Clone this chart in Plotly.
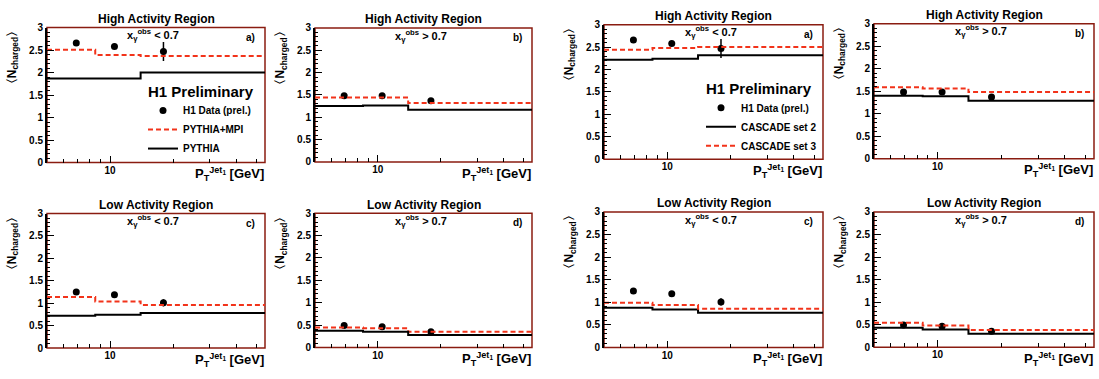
import plotly.graph_objects as go

# ---------------- data ----------------
bin_edges = [5, 8.5, 14, 55]          # P_T^Jet1 bin edges [GeV]
pt_mean = [6.9, 10.5, 18.0]           # mean P_T in each bin

# H1 data (prel.)
data_high_lo = [2.66, 2.58, 2.47]
err_high_lo = [0.05, 0.05, 0.21]
data_high_hi = [1.48, 1.48, 1.37]
err_high_hi = [0.03, 0.03, 0.04]
data_low_lo = [1.25, 1.19, 1.01]
err_low_lo = [0.03, 0.03, 0.08]
data_low_hi = [0.49, 0.465, 0.355]
err_low_hi = [0.02, 0.02, 0.03]

# Monte Carlo predictions
pythia_mpi_a = [2.51, 2.39, 2.37]
pythia_mpi_b = [1.44, 1.44, 1.32]
pythia_mpi_c = [1.14, 1.04, 0.96]
pythia_mpi_d = [0.45, 0.43, 0.35]
pythia_a = [1.87, 1.87, 2.00]
pythia_b = [1.25, 1.265, 1.17]
pythia_c = [0.72, 0.745, 0.78]
pythia_d = [0.375, 0.35, 0.28]
cascade2_a = [2.22, 2.24, 2.32]
cascade2_b = [1.40, 1.39, 1.29]
cascade2_c = [0.88, 0.84, 0.77]
cascade2_d = [0.43, 0.39, 0.30]
cascade3_a = [2.44, 2.48, 2.50]
cascade3_b = [1.59, 1.56, 1.48]
cascade3_c = [0.99, 0.94, 0.86]
cascade3_d = [0.54, 0.48, 0.38]

y_ticks = [0, 0.5, 1, 1.5, 2, 2.5, 3]
x_ticks = [10]
x_minor = [6, 7, 8, 9, 20, 30, 40, 50]

# ---------------- layout helpers ----------------
W, H = 1099, 379
FONT = "Liberation Sans, Arial, Helvetica, sans-serif"
RED = "#f2331a"
FRAME = "#8a1c10"

# panel pixel boxes: (left, right, top, bottom)
boxes = [
    (47, 265, 22.3, 161.7), (315, 532, 22.7, 161.0),
    (604, 823, 19.3, 158.3), (874, 1094, 18.3, 157.7),
    (47, 265, 214.3, 353.3), (315, 532, 214.0, 352.7),
    (604, 823, 212.7, 352.7), (874, 1094, 212.7, 352.3),
]

panels = [
    ("High Activity Region", "&lt; 0.7", "a)", data_high_lo, err_high_lo, pythia_mpi_a, pythia_a, "pythia"),
    ("High Activity Region", "&gt; 0.7", "b)", data_high_hi, err_high_hi, pythia_mpi_b, pythia_b, "pythia"),
    ("High Activity Region", "&lt; 0.7", "a)", data_high_lo, err_high_lo, cascade3_a, cascade2_a, "cascade"),
    ("High Activity Region", "&gt; 0.7", "b)", data_high_hi, err_high_hi, cascade3_b, cascade2_b, "cascade"),
    ("Low Activity Region", "&lt; 0.7", "c)", data_low_lo, err_low_lo, pythia_mpi_c, pythia_c, "pythia"),
    ("Low Activity Region", "&gt; 0.7", "d)", data_low_hi, err_low_hi, pythia_mpi_d, pythia_d, "pythia"),
    ("Low Activity Region", "&lt; 0.7", "c)", data_low_lo, err_low_lo, cascade3_c, cascade2_c, "cascade"),
    ("Low Activity Region", "&gt; 0.7", "d)", data_low_hi, err_low_hi, cascade3_d, cascade2_d, "cascade"),
]

def px(x):
    return x / W

def py(y):
    return 1 - y / H

fig = go.Figure()
annotations = []
shapes = []
layout_axes = {}

for i, (box, p) in enumerate(zip(boxes, panels)):
    n = i + 1
    xa = "x" if n == 1 else f"x{n}"
    ya = "y" if n == 1 else f"y{n}"
    l, r, t, b = box
    title, cut, letter, dat, err, red_vals, blk_vals, family = p

    leg = None
    if i == 0:
        leg = "legend"
    elif i == 2:
        leg = "legend2"
    show = leg is not None

    data_trace = go.Scatter(
        x=pt_mean, y=dat, mode="markers", xaxis=xa, yaxis=ya,
        marker=dict(color="black", size=7),
        error_y=dict(type="data", array=err, color="black", thickness=1.5, width=0),
        name="H1 Data (prel.)", showlegend=show, legend=leg or "legend",
    )
    red_trace = go.Scatter(
        x=bin_edges, y=red_vals + [red_vals[-1]], mode="lines", line_shape="hv",
        xaxis=xa, yaxis=ya, line=dict(color=RED, width=2, dash="5px,3px"),
        name="PYTHIA+MPI" if family == "pythia" else "CASCADE set 3",
        showlegend=show, legend=leg or "legend",
    )
    blk_trace = go.Scatter(
        x=bin_edges, y=blk_vals + [blk_vals[-1]], mode="lines", line_shape="hv",
        xaxis=xa, yaxis=ya, line=dict(color="black", width=2),
        name="PYTHIA" if family == "pythia" else "CASCADE set 2",
        showlegend=show, legend=leg or "legend",
    )
    if family == "pythia":
        fig.add_traces([data_trace, red_trace, blk_trace])
    else:
        fig.add_traces([data_trace, blk_trace, red_trace])

    xkey = "xaxis" if n == 1 else f"xaxis{n}"
    ykey = "yaxis" if n == 1 else f"yaxis{n}"
    layout_axes[xkey] = dict(
        domain=[px(l), px(r)], anchor=ya, type="log",
        range=[0.69897, 1.74036], tickvals=x_ticks, ticktext=[str(v) for v in x_ticks],
        ticks="inside", ticklen=7, tickwidth=1, tickcolor="black",
        tickfont=dict(family=FONT, size=10, color="black", weight="bold"),
        showgrid=False, zeroline=False, showline=False,
        minor=dict(tickvals=x_minor, ticks="inside", ticklen=4, tickcolor="black", showgrid=False),
    )
    layout_axes[ykey] = dict(
        domain=[py(b), py(t)], anchor=xa, range=[0, 3],
        tickvals=y_ticks, ticktext=[f"{v:g}" for v in y_ticks],
        ticks="inside", ticklen=7, tickwidth=1, tickcolor="black",
        tickfont=dict(family=FONT, size=10, color="black", weight="bold"),
        showgrid=False, zeroline=False, showline=True, linecolor="black", linewidth=2,
        minor=dict(dtick=0.1, ticks="inside", ticklen=3, tickcolor="black", showgrid=False),
    )
    shapes.append(dict(type="rect", xref="paper", yref="paper",
                       x0=px(l), x1=px(r), y0=py(b), y1=py(t),
                       line=dict(color=FRAME, width=1.5), layer="below"))
    cx = (l + r) / 2
    annotations += [
        dict(text=title, x=px(cx), y=py(t - 9), xref="paper", yref="paper",
             showarrow=False, xanchor="center", yanchor="middle",
             font=dict(family=FONT, size=12, color="black", weight="bold")),
        dict(text="x<sub>γ</sub><sup>obs</sup> " + cut, x=px(cx - 3), y=py(t + 8), xref="paper", yref="paper",
             showarrow=False, xanchor="center", yanchor="middle",
             font=dict(family=FONT, size=11, color="black", weight="bold")),
        dict(text=letter, x=px(r - 8), y=py(t + 10), xref="paper", yref="paper",
             showarrow=False, xanchor="right", yanchor="middle",
             font=dict(family=FONT, size=10, color="black", weight="bold")),
        dict(text="〈N<sub>charged</sub>〉", x=px(l - 34), y=py(t - 4), xref="paper", yref="paper",
             showarrow=False, xanchor="center", yanchor="top", textangle=-90,
             font=dict(family=FONT, size=12, color="black", weight="bold")),
        dict(text="P<sub>T</sub><sup>Jet<sub>1</sub></sup> [GeV]", x=px(r + 1), y=py(b + 12), xref="paper", yref="paper",
             showarrow=False, xanchor="right", yanchor="middle",
             font=dict(family=FONT, size=13, color="black", weight="bold")),
    ]
    if i in (0, 2):
        annotations.append(dict(text="H1 Preliminary", x=px(r - 9), y=py(t + 66), xref="paper", yref="paper",
                                showarrow=False, xanchor="right", yanchor="middle",
                                font=dict(family=FONT, size=15, color="black", weight="bold")))

legend_font = dict(family=FONT, size=10, color="black", weight="bold")
fig.update_layout(
    width=W, height=H, margin=dict(l=0, r=0, t=0, b=0),
    paper_bgcolor="white", plot_bgcolor="white",
    font=dict(family=FONT, color="black"),
    annotations=annotations, shapes=shapes,
    legend=dict(x=px(143), y=py(93), xanchor="left", yanchor="top", font=legend_font,
                bgcolor="rgba(0,0,0,0)", itemwidth=30, tracegroupgap=0),
    legend2=dict(x=px(701), y=py(90), xanchor="left", yanchor="top", font=legend_font,
                 bgcolor="rgba(0,0,0,0)", itemwidth=30, tracegroupgap=0),
    **layout_axes,
)

fig.write_html("out.html")
